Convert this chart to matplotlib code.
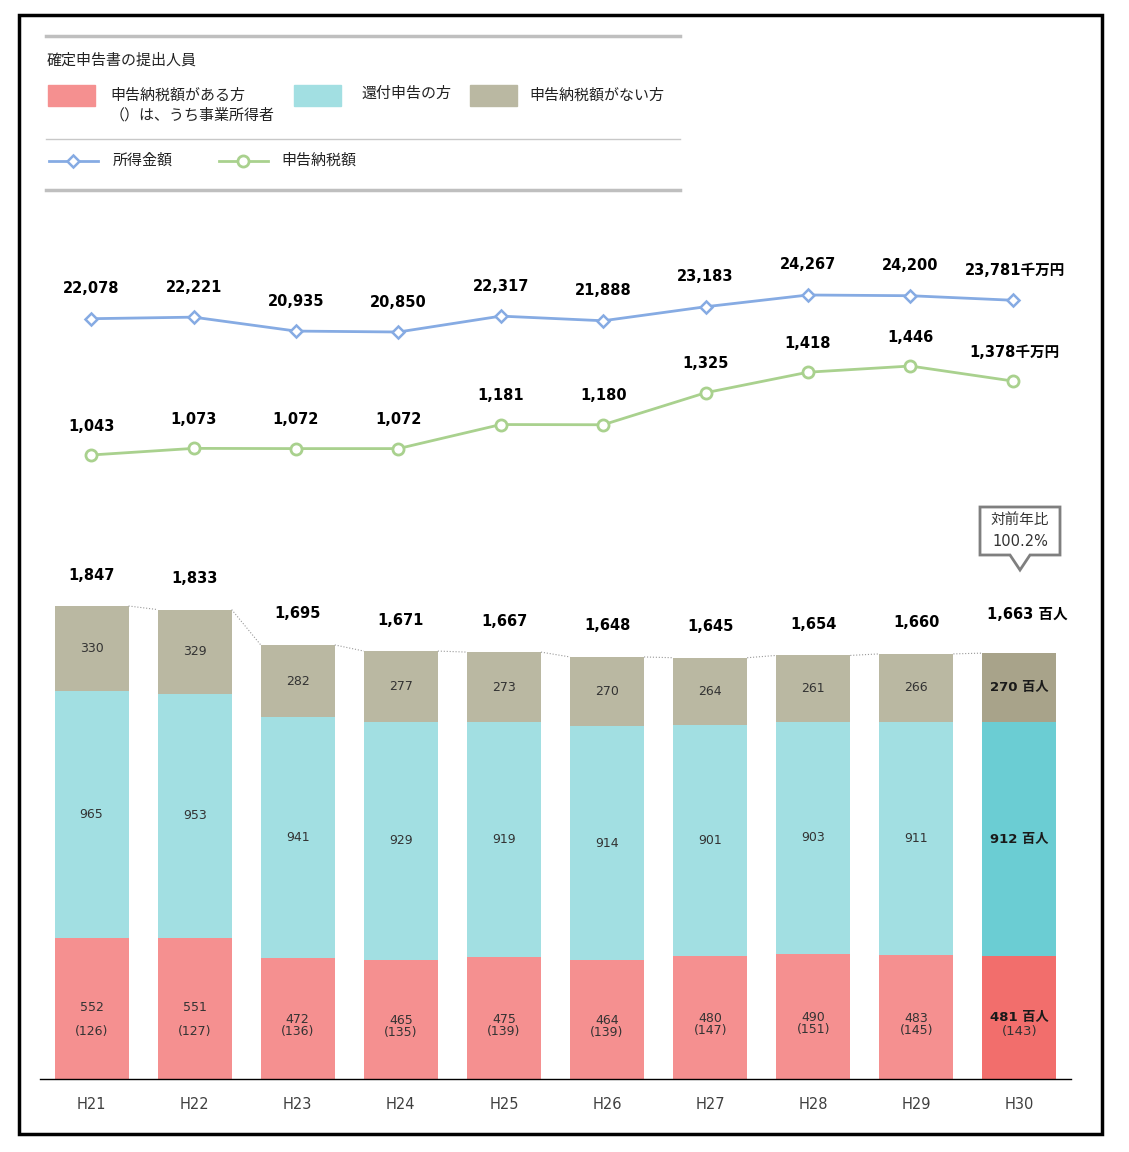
import numpy as np
import matplotlib.pyplot as plt
from matplotlib.patches import Rectangle, Polygon
from matplotlib.lines import Line2D

plt.rcParams['font.family'] = ['DejaVu Sans', 'Noto Sans CJK JP']

# data
years = ['H21', 'H22', 'H23', 'H24', 'H25', 'H26', 'H27', 'H28', 'H29', 'H30']
tax_payers = [552, 551, 472, 465, 475, 464, 480, 490, 483, 481]
business = [126, 127, 136, 135, 139, 139, 147, 151, 145, 143]
refund = [965, 953, 941, 929, 919, 914, 901, 903, 911, 912]
no_tax = [330, 329, 282, 277, 273, 270, 264, 261, 266, 270]
totals = [1847, 1833, 1695, 1671, 1667, 1648, 1645, 1654, 1660, 1663]
income = [22078, 22221, 20935, 20850, 22317, 21888, 23183, 24267, 24200, 23781]
tax_amount = [1043, 1073, 1072, 1072, 1181, 1180, 1325, 1418, 1446, 1378]

red, teal, tan = '#F59090', '#A2DFE2', '#BAB8A2'
red2, teal2, tan2 = '#F26E6C', '#6BCDD3', '#A8A38A'
blue, green = '#86ABE3', '#A9D18E'

W, H = 1129, 1152
fig = plt.figure(figsize=(W / 100, H / 100), dpi=100)


def fx(x):
    return x / W


def fy(y):
    return 1 - y / H


def ax_px(x0, y0, x1, y1):
    return fig.add_axes([fx(x0), fy(y1), (x1 - x0) / W, (y1 - y0) / H])


x = np.arange(len(years))
bw = 0.718

# ---- bars
ax = ax_px(40, 540, 1071, 1079)
k = 473 / 1847  # px per unit
ax.set_ylim(0, (1079 - 540) / k)
ax.set_xlim(-0.5, 9.5)
last = len(years) - 1
cr = [red] * last + [red2]
ct = [teal] * last + [teal2]
cn = [tan] * last + [tan2]
b1 = np.array(tax_payers)
b2 = b1 + np.array(refund)
ax.bar(x, tax_payers, bw, color=cr)
ax.bar(x, refund, bw, bottom=b1, color=ct)
ax.bar(x, no_tax, bw, bottom=b2, color=cn)

for i in range(len(years)):
    if i == last:
        ax.text(i, b2[i] + no_tax[i] / 2, f'{no_tax[i]} 百人', ha='center', va='center',
                fontsize=9.5, fontweight='bold', color='#1a1a1a')
        ax.text(i, b1[i] + refund[i] / 2, f'{refund[i]} 百人', ha='center', va='center',
                fontsize=9.5, fontweight='bold', color='#1a1a1a')
        ax.annotate(f'{tax_payers[i]} 百人', (i, tax_payers[i] / 2), xytext=(0, 0),
                    textcoords='offset pixels', ha='center', va='center',
                    fontsize=9.5, fontweight='bold', color='#1a1a1a')
        ax.annotate(f'({business[i]})', (i, tax_payers[i] / 2), xytext=(0, -14),
                    textcoords='offset pixels', ha='center', va='center',
                    fontsize=9.5, color='#333333')
        ax.annotate(f'{totals[i]:,} 百人', (i, totals[i]), xytext=(8, 39),
                    textcoords='offset pixels', ha='center', va='center',
                    fontsize=10.5, fontweight='bold')
    else:
        ax.text(i, b2[i] + no_tax[i] / 2, str(no_tax[i]), ha='center', va='center',
                fontsize=9, color='#333333')
        ax.text(i, b1[i] + refund[i] / 2, str(refund[i]), ha='center', va='center',
                fontsize=9, color='#333333')
        if i < 2:
            ax.annotate(str(tax_payers[i]), (i, tax_payers[i] / 2), xytext=(0, 1),
                        textcoords='offset pixels', ha='center', va='center',
                        fontsize=9, color='#333333')
            ax.annotate(f'({business[i]})', (i, tax_payers[i] / 2), xytext=(0, -23),
                        textcoords='offset pixels', ha='center', va='center',
                        fontsize=9, color='#333333')
        else:
            ax.annotate(str(tax_payers[i]), (i, tax_payers[i] / 2), xytext=(0, -1),
                        textcoords='offset pixels', ha='center', va='center',
                        fontsize=9, color='#333333')
            ax.annotate(f'({business[i]})', (i, tax_payers[i] / 2), xytext=(0, -13),
                        textcoords='offset pixels', ha='center', va='center',
                        fontsize=9, color='#333333')
        ax.annotate(f'{totals[i]:,}', (i, totals[i]), xytext=(0, 31),
                    textcoords='offset pixels', ha='center', va='center',
                    fontsize=10.5, fontweight='bold')
    if i < last:
        ax.plot([i + bw / 2, i + 1 - bw / 2], [totals[i], totals[i + 1]],
                ls=':', color='#999999', lw=0.8)

ax.set_xticks(x)
ax.set_xticklabels(years, fontsize=10.5, color='#404040')
ax.tick_params(axis='x', length=0, pad=13)
ax.set_yticks([])
for s in ['top', 'left', 'right']:
    ax.spines[s].set_visible(False)
ax.spines['bottom'].set_linewidth(1)

# ---- income line
ax_i = ax_px(40, 230, 1064, 480)
ax_i.set_xlim(-0.5, 9.5)
si = 0.01083
ax_i.set_ylim(20850 - (480 - 332) / si, 20850 + (332 - 230) / si)
ax_i.plot(x, income, color=blue, lw=2, marker='D', ms=6.5, mfc='white',
          mec=blue, mew=1.8)
for i, v in enumerate(income):
    lab = f'{v:,}' + ('千万円' if i == last else '')
    ax_i.annotate(lab, (i, v), xytext=(2 if i == last else 0, 30),
                  textcoords='offset pixels', ha='center', va='center',
                  fontsize=10.5, fontweight='bold')
ax_i.axis('off')

# ---- tax line
ax_t = ax_px(40, 230, 1064, 480)
ax_t.set_xlim(-0.5, 9.5)
st = 0.2208
ax_t.set_ylim(1043 - (480 - 455) / st, 1043 + (455 - 230) / st)
ax_t.plot(x, tax_amount, color=green, lw=2, marker='o', ms=8, mfc='white',
          mec=green, mew=2)
for i, v in enumerate(tax_amount):
    lab = f'{v:,}' + ('千万円' if i == last else '')
    ax_t.annotate(lab, (i, v), xytext=(2 if i == last else 0, 29),
                  textcoords='offset pixels', ha='center', va='center',
                  fontsize=10.5, fontweight='bold')
ax_t.axis('off')

# ---- legend block
tf = fig.transFigure
fig.add_artist(Line2D([fx(46), fx(680)], [fy(36), fy(36)], color='#BFBFBF', lw=2.5, transform=tf))
fig.add_artist(Line2D([fx(46), fx(680)], [fy(139), fy(139)], color='#C8C8C8', lw=1, transform=tf))
fig.add_artist(Line2D([fx(46), fx(680)], [fy(190), fy(190)], color='#BFBFBF', lw=2.5, transform=tf))
jp = ['Noto Sans CJK JP', 'DejaVu Sans']
lfs = 10.8
fig.text(fx(47), fy(60), '確定申告書の提出人員', fontsize=lfs, family=jp, va='center', color='#222222')
for x0, c in [(48, red), (294, teal), (470, tan)]:
    fig.add_artist(Rectangle((fx(x0), fy(106)), 47 / W, 21 / H, color=c, transform=tf))
fig.text(fx(110), fy(96), '申告納税額がある方', fontsize=lfs, family=jp, va='center', color='#222222')
fig.text(fx(110), fy(115), '（）は、うち事業所得者', fontsize=lfs, family=jp, va='center', color='#222222')
fig.text(fx(361), fy(94), '還付申告の方', fontsize=lfs, family=jp, va='center', color='#222222')
fig.text(fx(529), fy(96), '申告納税額がない方', fontsize=lfs, family=jp, va='center', color='#222222')
fig.add_artist(Line2D([fx(49), fx(73), fx(98)], [fy(161)] * 3, color=blue, lw=2, marker='D',
                      markevery=[1], ms=6.5, mfc='white', mec=blue, mew=1.8, transform=tf))
fig.add_artist(Line2D([fx(219), fx(243), fx(268)], [fy(161)] * 3, color=green, lw=2, marker='o',
                      markevery=[1], ms=8, mfc='white', mec=green, mew=2, transform=tf))
fig.text(fx(113), fy(161), '所得金額', fontsize=lfs, family=jp, va='center', color='#222222')
fig.text(fx(281), fy(161), '申告納税額', fontsize=lfs, family=jp, va='center', color='#222222')

# ---- callout
pts = [(980, 507), (1060, 507), (1060, 555), (1030, 555), (1020, 570), (1010, 555), (980, 555)]
fig.add_artist(Polygon([(fx(a), fy(b)) for a, b in pts], closed=True, fc='white',
                       ec='#7F7F7F', lw=2, transform=tf))
fig.text(fx(1020), fy(520), '対前年比', fontsize=10.5, family=jp, ha='center', va='center', color='#333333')
fig.text(fx(1020), fy(541), '100.2%', fontsize=10.5, ha='center', va='center', color='#333333')

# ---- outer frame
fig.add_artist(Rectangle((fx(19), fy(1134)), (1102 - 19) / W, (1134 - 15) / H, fill=False,
                         ec='black', lw=2.5, transform=tf))

fig.savefig('out.png', dpi=100)
